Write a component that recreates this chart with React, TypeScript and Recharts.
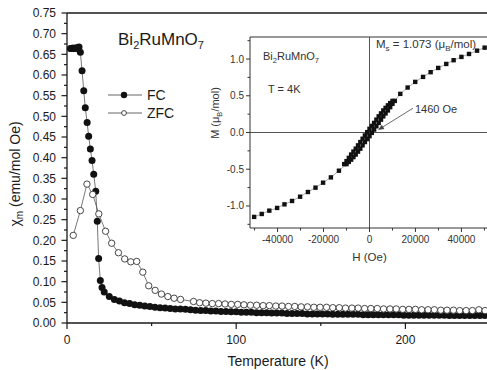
import React from 'react';
import { ScatterChart, Scatter, XAxis, YAxis, ReferenceLine, Legend } from 'recharts';

// main plot: susceptibility vs temperature
const fcTemps = [
  2, 2.5, 3, 3.5, 4, 4.5, 5, 5.5, 6, 7.1, 7.9, 8.9, 9.9, 10.8, 11.9, 12.8, 13.8, 14.8, 15.8, 17.0,
  17.9, 18.7, 19.7, 20.7,
  22, 25, 28, 31, 34, 37, 40, 43, 46, 49, 52, 55, 58, 61, 64, 67, 70, 73, 76, 79,
  82, 85, 88, 91, 94, 97, 100, 103, 106, 109, 112, 115, 118, 121, 124, 127, 130, 133, 136, 139,
  142, 145, 148, 151, 154, 157, 160, 163, 166, 169, 172, 175, 178, 181, 184, 187, 190, 193, 196, 199,
  202, 205, 208, 211, 214, 217, 220, 223, 226, 229, 232, 235, 238, 241, 244, 247,
];
const fcChi = [
  0.664, 0.664, 0.665, 0.665, 0.665, 0.665, 0.665, 0.665, 0.666, 0.668, 0.655, 0.61, 0.562, 0.521, 0.485, 0.452, 0.421, 0.393, 0.36, 0.319,
  0.246, 0.156, 0.103, 0.086,
  0.075, 0.064, 0.057, 0.053, 0.049, 0.047, 0.044, 0.043, 0.041, 0.04, 0.038, 0.037, 0.036, 0.035, 0.034, 0.034, 0.033, 0.032, 0.031, 0.03,
  0.03, 0.029, 0.029, 0.028, 0.028, 0.027, 0.027, 0.026, 0.026, 0.026, 0.025, 0.025, 0.025, 0.024, 0.024, 0.024, 0.023, 0.023, 0.023, 0.023,
  0.022, 0.022, 0.022, 0.022, 0.022, 0.021, 0.021, 0.021, 0.021, 0.021, 0.021, 0.02, 0.02, 0.02, 0.02, 0.02, 0.02, 0.02, 0.02, 0.019,
  0.019, 0.019, 0.019, 0.019, 0.019, 0.019, 0.019, 0.019, 0.018, 0.018, 0.018, 0.018, 0.018, 0.018, 0.018, 0.018,
];
const zfcTemps = [
  3.7, 7.9, 11.8, 15.2, 18.8, 22.8, 26.4, 30.4, 34.1, 37.7, 41.2, 44.8, 48.3, 52.1, 55.8, 59.6, 63.3, 67.1, 74.8, 78.4,
  82.1, 85.9, 89.6, 93.4, 97.1, 100.9, 104.6, 108.4, 112.1, 115.9, 119.6, 123.4, 127.1, 130.9, 134.6, 138.4, 142.1, 145.9, 149.6, 153.4,
  157.1, 160.9, 164.6, 168.4, 172.1, 175.9, 179.6, 183.4, 187.1, 190.9, 194.6, 198.4, 202.1, 205.9, 209.6, 213.4, 217.1, 220.9, 224.6, 228.4,
  232.1, 235.9, 239.6, 243.4, 247.1,
];
const zfcChi = [
  0.212, 0.272, 0.336, 0.311, 0.264, 0.222, 0.193, 0.17, 0.155, 0.148, 0.149, 0.123, 0.09, 0.079, 0.07, 0.064, 0.06, 0.057, 0.052, 0.049,
  0.048, 0.047, 0.047, 0.046, 0.045, 0.045, 0.044, 0.043, 0.043, 0.042, 0.042, 0.041, 0.041, 0.04, 0.04, 0.039, 0.039, 0.038, 0.038, 0.038,
  0.037, 0.037, 0.036, 0.036, 0.036, 0.035, 0.035, 0.035, 0.034, 0.034, 0.034, 0.033, 0.033, 0.033, 0.032, 0.032, 0.032, 0.031, 0.031, 0.031,
  0.03, 0.03, 0.03, 0.032, 0.03,
];
const tempTicks = [0, 50, 100, 150, 200, 250];
const tempLabels = [0, 100, 200];
const chiTicks = [
  0, 0.025, 0.05, 0.075, 0.1, 0.125, 0.15, 0.175, 0.2, 0.225, 0.25, 0.275, 0.3, 0.325, 0.35, 0.375,
  0.4, 0.425, 0.45, 0.475, 0.5, 0.525, 0.55, 0.575, 0.6, 0.625, 0.65, 0.675, 0.7, 0.725, 0.75,
];

// inset: M(H) loop at 4 K
const lowerField = [
  -50200, -46900, -43600, -40200, -37000, -33700, -30200, -26800, -23500, -20200, -16800, -13300,
  -10000, -9000, -8000, -7000, -6000, -5000, -4000, -3000, -2000, -1000, 0, 1000, 2000, 3000, 4000,
  5000, 6000, 7000, 8000, 9000, 10000, 11000,
  13400, 16600, 19900, 23300, 26600, 29900, 33400, 36600, 40000, 43300, 46800, 50100,
];
const lowerMoment = [
  -1.149, -1.109, -1.064, -1.027, -0.978, -0.932, -0.874, -0.81, -0.751, -0.683, -0.611, -0.52,
  -0.43, -0.4, -0.37, -0.335, -0.3, -0.26, -0.22, -0.175, -0.13, -0.09, -0.05, -0.005, 0.04, 0.085, 0.13,
  0.175, 0.22, 0.26, 0.3, 0.345, 0.39, 0.43,
  0.526, 0.612, 0.689, 0.757, 0.821, 0.879, 0.933, 0.984, 1.029, 1.069, 1.114, 1.155,
];
const upperField = [
  -11000, -10000, -9000, -8000, -7000, -6000, -5000, -4000, -3000, -2000, -1000, 0,
  1000, 2000, 3000, 4000, 5000, 6000, 7000, 8000, 9000, 10000,
];
const upperMoment = [
  -0.43, -0.39, -0.345, -0.3, -0.26, -0.22, -0.175, -0.13, -0.085, -0.04, 0.005, 0.05,
  0.09, 0.13, 0.175, 0.22, 0.26, 0.3, 0.335, 0.37, 0.4, 0.43,
];
const fieldTicks = [-50000, -40000, -30000, -20000, -10000, 0, 10000, 20000, 30000, 40000, 50000];
const fieldLabels = [-40000, -20000, 0, 20000, 40000];
const momentTicks = [-1.25, -1, -0.75, -0.5, -0.25, 0, 0.25, 0.5, 0.75, 1, 1.25];
const momentLabels = [-1, -0.5, 0, 0.5, 1];

const fcData = fcTemps.map((t, i) => ({ t, chi: fcChi[i] }));
const zfcData = zfcTemps.map((t, i) => ({ t, chi: zfcChi[i] }));
const lowerData = lowerField.map((h, i) => ({ h, m: lowerMoment[i] }));
const upperData = upperField.map((h, i) => ({ h, m: upperMoment[i] }));

const font = '"Liberation Sans", Arial, sans-serif';
const ink = '#1a1a1a';
const insetInk = '#333';

const TempTick = ({ x, y, payload }: any) => {
  const major = tempLabels.includes(payload.value);
  return (
    <g>
      <line x1={x} x2={x} y1={y} y2={y + (major ? 6 : 3)} stroke={ink} strokeWidth={1.2} />
      {major && (
        <text x={x} y={y + 20.5} textAnchor="middle" fontSize={12} fill={ink} fontFamily={font}>
          {payload.value}
        </text>
      )}
    </g>
  );
};

const ChiTick = ({ x, y, payload }: any) => {
  const major = Math.round(payload.value * 1000) % 50 === 0;
  return (
    <g>
      <line x1={x - (major ? 5.5 : 3)} x2={x} y1={y} y2={y} stroke={ink} strokeWidth={1.2} />
      {major && (
        <text x={x - 11} y={y + 4.3} textAnchor="end" fontSize={12} fill={ink} fontFamily={font}>
          {payload.value.toFixed(2)}
        </text>
      )}
    </g>
  );
};

const FieldTick = ({ x, y, payload }: any) => {
  const major = fieldLabels.includes(payload.value);
  return (
    <g>
      <line x1={x} x2={x} y1={y} y2={y + (major ? 4 : 2.5)} stroke={insetInk} strokeWidth={1} />
      {major && (
        <text x={x} y={y + 14.5} textAnchor="middle" fontSize={10} fill={insetInk} fontFamily={font}>
          {payload.value}
        </text>
      )}
    </g>
  );
};

const MomentTick = ({ x, y, payload }: any) => {
  const major = momentLabels.includes(payload.value);
  return (
    <g>
      <line x1={x - (major ? 4 : 2.5)} x2={x} y1={y} y2={y} stroke={insetInk} strokeWidth={1} />
      {major && (
        <text x={x - 6} y={y + 3.5} textAnchor="end" fontSize={10} fill={insetInk} fontFamily={font}>
          {payload.value.toFixed(1)}
        </text>
      )}
    </g>
  );
};

const filledDot = (p: any) => <circle cx={p.cx} cy={p.cy} r={3.5} fill="#111" />;
const openDot = (p: any) => <circle cx={p.cx} cy={p.cy} r={3.2} fill="#fff" stroke="#333" strokeWidth={0.9} />;
const square = (p: any) => <rect x={p.cx - 2.2} y={p.cy - 2.2} width={4.4} height={4.4} fill="#111" />;

const renderLegend = (props: any) => (
  <svg width={80} height={40} style={{ display: 'block' }}>
    {(props.payload || []).map((entry: any, i: number) => (
      <g key={entry.value} transform={`translate(0, ${i * 18})`}>
        <line x1={8} x2={42} y1={10} y2={10} stroke="#555" strokeWidth={0.9} />
        {entry.value === 'FC' ? (
          <circle cx={24} cy={10} r={3.2} fill="#111" />
        ) : (
          <circle cx={24} cy={10} r={2.4} fill="#fff" stroke="#333" strokeWidth={0.9} />
        )}
        <text x={47} y={15} fontSize={14} fill={ink} fontFamily={font}>
          {entry.value}
        </text>
      </g>
    ))}
  </svg>
);

const arrowShape = (p: any) => {
  const { x1, y1, x2, y2 } = p;
  const ang = Math.atan2(y2 - y1, x2 - x1);
  const len = 6;
  const w = 2.5;
  const bx = x2 - len * Math.cos(ang);
  const by = y2 - len * Math.sin(ang);
  const pts = `${x2},${y2} ${bx + w * Math.sin(ang)},${by - w * Math.cos(ang)} ${bx - w * Math.sin(ang)},${by + w * Math.cos(ang)}`;
  return (
    <g>
      <line x1={x1} y1={y1} x2={bx} y2={by} stroke="#444" strokeWidth={0.8} />
      <polygon points={pts} fill="#444" />
    </g>
  );
};

export default function App() {
  return (
    <div style={{ position: 'fixed', left: 0, top: 0, width: 487, height: 370, overflow: 'hidden', background: '#fff', fontFamily: font }}>
      <div style={{ position: 'absolute', left: 0, top: 0 }}>
        <ScatterChart width={490} height={370} margin={{ top: 13, right: 0, bottom: 0, left: 0 }}>
          <XAxis
            type="number"
            dataKey="t"
            domain={[0, 250]}
            ticks={tempTicks}
            interval={0}
            height={47}
            tickSize={0}
            tickMargin={0}
            tickLine={false}
            tick={<TempTick />}
            axisLine={{ stroke: ink, strokeWidth: 1.3 }}
          />
          <YAxis
            type="number"
            dataKey="chi"
            domain={[0, 0.75]}
            ticks={chiTicks}
            interval={0}
            width={67}
            tickSize={0}
            tickMargin={0}
            tickLine={false}
            tick={<ChiTick />}
            axisLine={{ stroke: ink, strokeWidth: 1.3 }}
          />
          <ReferenceLine y={0.75} stroke={ink} strokeWidth={1.3} />
          <Legend
            layout="horizontal"
            verticalAlign="middle"
            align="center"
            content={renderLegend}
            wrapperStyle={{ left: 100, top: 85, width: 80, height: 40 }}
          />
          <Scatter name="FC" data={fcData} shape={filledDot} line={{ stroke: '#555', strokeWidth: 0.8 }} isAnimationActive={false} />
          <Scatter name="ZFC" data={zfcData} shape={openDot} line={{ stroke: '#555', strokeWidth: 0.8 }} isAnimationActive={false} />
        </ScatterChart>
      </div>

      <div style={{ position: 'absolute', left: 0, top: 0 }}>
        <ScatterChart width={492} height={370} margin={{ top: 37, right: 3, bottom: 101, left: 210 }}>
          <XAxis
            type="number"
            dataKey="h"
            domain={[-52000, 52000]}
            ticks={fieldTicks}
            interval={0}
            height={41}
            tickSize={0}
            tickMargin={0}
            tickLine={false}
            tick={<FieldTick />}
            axisLine={{ stroke: insetInk, strokeWidth: 1 }}
            label={{ value: 'H (Oe)', position: 'insideBottom', offset: 8, fontSize: 11.5, fill: insetInk, fontFamily: font }}
          />
          <YAxis
            type="number"
            dataKey="m"
            domain={[-1.3, 1.3]}
            ticks={momentTicks}
            interval={0}
            width={40}
            tickSize={0}
            tickMargin={0}
            tickLine={false}
            tick={<MomentTick />}
            axisLine={{ stroke: insetInk, strokeWidth: 1 }}
          />
          <ReferenceLine y={1.3} stroke={insetInk} strokeWidth={1} />
          <ReferenceLine x={0} stroke="#555" strokeWidth={1} />
          <ReferenceLine y={0} stroke="#555" strokeWidth={1} />
          <Scatter data={lowerData} shape={square} line={{ stroke: '#888', strokeWidth: 0.7 }} isAnimationActive={false} />
          <Scatter data={upperData} shape={square} line={{ stroke: '#888', strokeWidth: 0.7 }} isAnimationActive={false} />
          <ReferenceLine segment={[{ x: 18900, y: 0.33 }, { x: 3700, y: 0.035 }]} shape={arrowShape} />
        </ScatterChart>
      </div>

      <svg width={487} height={370} style={{ position: 'absolute', left: 0, top: 0, pointerEvents: 'none' }} fontFamily={font}>
        <text x={118} y={45} fontSize={17} fill={ink}>
          Bi<tspan fontSize={11} dy={4}>2</tspan>
          <tspan dy={-4}>RuMnO</tspan>
          <tspan fontSize={11} dy={4}>7</tspan>
        </text>
        <text x={278} y={366} fontSize={14} fill={ink} textAnchor="middle">Temperature (K)</text>
        <text x={20} y={174} fontSize={14} fill={ink} textAnchor="middle" transform="rotate(-90 20 174)">
          χ<tspan fontSize={10} dy={3}>m</tspan>
          <tspan dy={-3}> (emu/mol Oe)</tspan>
        </text>
        <text x={219} y={113} fontSize={11} fill={insetInk} textAnchor="middle" transform="rotate(-90 219 113)">
          M (μ<tspan fontSize={7.5} dy={3}>B</tspan>
          <tspan dy={-3}>/mol)</tspan>
        </text>
        <text x={263} y={60} fontSize={11} fill={insetInk}>
          Bi<tspan fontSize={7.5} dy={3}>2</tspan>
          <tspan dy={-3}>RuMnO</tspan>
          <tspan fontSize={7.5} dy={3}>7</tspan>
        </text>
        <text x={268} y={93} fontSize={11} fill={insetInk}>T = 4K</text>
        <text x={376} y={48} fontSize={11.5} fill={insetInk}>
          M<tspan fontSize={8} dy={3}>s</tspan>
          <tspan dy={-3}> = 1.073 (μ</tspan>
          <tspan fontSize={8} dy={3}>B</tspan>
          <tspan dy={-3}>/mol)</tspan>
        </text>
        <text x={415} y={113} fontSize={11} fill={insetInk}>1460 Oe</text>
      </svg>
    </div>
  );
}
